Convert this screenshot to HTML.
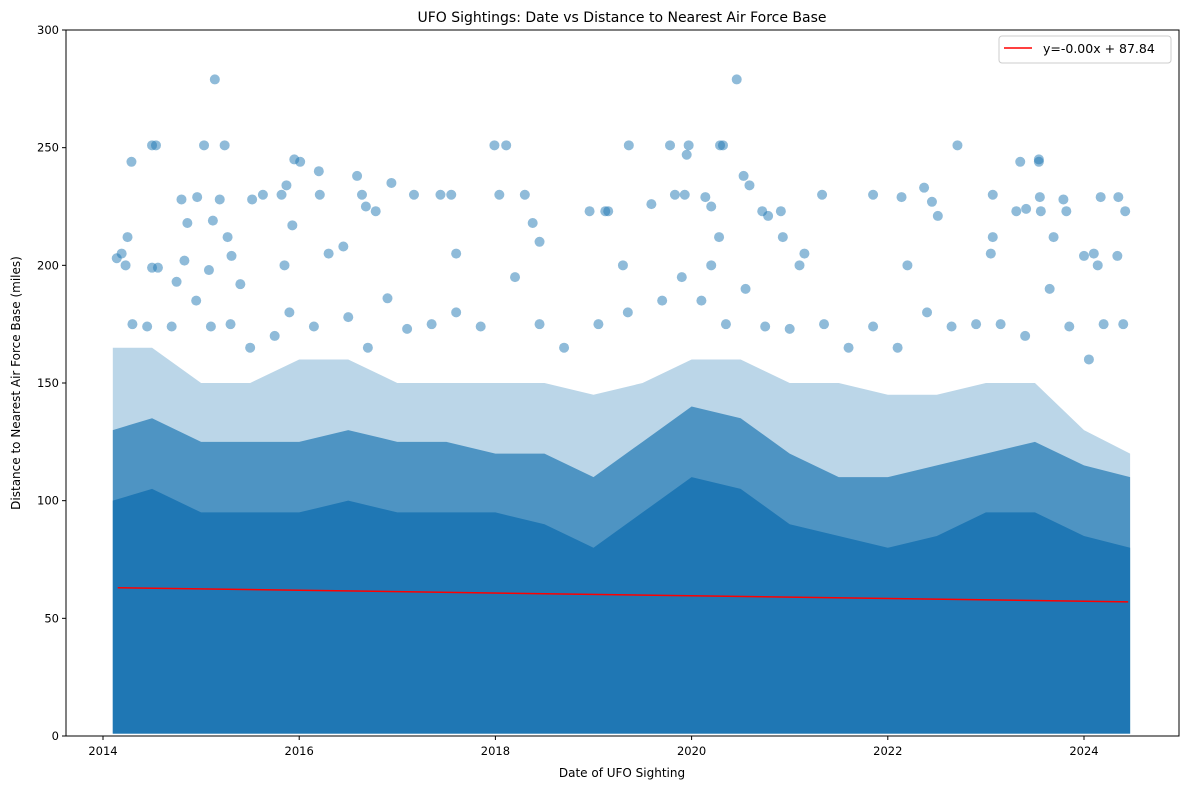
<!DOCTYPE html>
<html><head><meta charset="utf-8"><style>
body{margin:0;background:#fff;font-family:"DejaVu Sans","Liberation Sans",sans-serif;}
svg text{font-family:"DejaVu Sans","Liberation Sans",sans-serif;}
</style></head><body>
<svg id="chart" width="1189" height="790" xmlns="http://www.w3.org/2000/svg">
<text x="622" y="22" font-size="14" text-anchor="middle">UFO Sightings: Date vs Distance to Nearest Air Force Base</text>
<g id="plot"></g>
<rect x="66" y="30" width="1113" height="706" fill="none" stroke="#000" stroke-width="1"/>
<g id="axes"></g>
<text x="622" y="777" font-size="12" text-anchor="middle">Date of UFO Sighting</text>
<text transform="translate(20,383) rotate(-90)" font-size="12" text-anchor="middle">Distance to Nearest Air Force Base (miles)</text>
<g>
<rect x="999" y="36" width="172" height="27" rx="3" fill="#fff" stroke="#ccc"/>
<line x1="1004" y1="48" x2="1032" y2="48" stroke="red" stroke-width="1.5"/>
<text x="1043" y="53" font-size="12.5">y=-0.00x + 87.84</text>
</g>
</svg>
<script>
const binYears=[2014.1,2014.5,2015,2015.5,2016,2016.5,2017,2017.5,2018,2018.5,2019,2019.5,2020,2020.5,2021,2021.5,2022,2022.5,2023,2023.5,2024,2024.47];
const solidTop=[100,105,95,95,95,100,95,95,95,90,80,95,110,105,90,85,80,85,95,95,85,80];
const midTop=[130,135,125,125,125,130,125,125,120,120,110,125,140,135,120,110,110,115,120,125,115,110];
const sparseTop=[165,165,150,150,160,160,150,150,150,150,145,150,160,160,150,150,145,145,150,150,130,120];
const outYears=[2014.14,2014.19,2014.23,2014.25,2014.29,2014.5,2014.54,2014.5,2014.56,2014.75,2014.8,2014.83,2014.86,2014.96,2015.03,2015.08,2015.12,2015.14,2015.19,2015.24,2015.27,2015.31,2015.52,2015.63,2015.82,2015.85,2015.87,2015.93,2015.95,2016.01,2016.2,2016.21,2016.3,2016.59,2016.64,2016.68,2016.78,2016.94,2017.17,2017.44,2017.55,2017.99,2018.04,2018.11,2018.3,2018.38,2018.96,2019.12,2019.15,2019.36,2019.59,2019.78,2019.83,2019.93,2019.97,2019.95,2020.14,2020.2,2020.29,2020.32,2020.28,2020.46,2020.53,2020.59,2020.72,2020.78,2020.91,2020.93,2021.33,2021.85,2022.14,2022.37,2022.45,2022.51,2022.71,2023.07,2023.07,2023.31,2023.35,2023.41,2023.54,2023.54,2023.55,2023.56,2023.69,2023.79,2023.82,2024.17,2024.35,2024.42,2024.34,2024.0,2024.14];
const outVals=[203,205,200,212,244,251,251,199,199,193,228,202,218,229,251,198,219,279,228,251,212,204,228,230,230,200,234,217,245,244,240,230,205,238,230,225,223,235,230,230,230,251,230,251,230,218,223,223,223,251,226,251,230,230,251,247,229,225,251,251,212,279,238,234,223,221,223,212,230,230,229,233,227,221,251,212,230,223,244,224,244,245,229,223,212,228,223,229,229,223,204,204,200];
const midYears=[2014.3,2014.45,2014.7,2014.95,2015.1,2015.3,2015.5,2015.75,2015.9,2016.15,2016.5,2016.7,2016.9,2017.1,2017.35,2017.6,2017.85,2018.2,2018.45,2018.7,2019.05,2019.35,2019.7,2019.9,2020.1,2020.35,2020.55,2020.75,2021.0,2021.15,2021.35,2021.6,2021.85,2022.1,2022.4,2022.65,2022.9,2023.15,2023.4,2023.65,2023.85,2024.05,2024.2,2024.4,2024.1,2016.45,2017.6,2018.45,2019.3,2020.2,2021.1,2022.2,2023.05,2015.4];
const midVals=[175,174,174,185,174,175,165,170,180,174,178,165,186,173,175,180,174,195,175,165,175,180,185,195,185,175,190,174,173,205,175,165,174,165,180,174,175,175,170,190,174,160,175,175,205,208,205,210,200,200,200,200,205,192];
const trendX=[2014.15,2024.45];
const trendY=[63,57];
const xTicks=[2014,2016,2018,2020,2022,2024];
const yTicks=[0,50,100,150,200,250,300];

const NS="http://www.w3.org/2000/svg";
const X=y=>103+(y-2014)*98.1;
const Y=v=>736-v*(706/300);
const plot=document.getElementById('plot'), axes=document.getElementById('axes');
function mk(t,a,p){const e=document.createElementNS(NS,t);for(const k in a)e.setAttribute(k,a[k]);(p||plot).appendChild(e);return e;}
function area(tops,op,name){
  let d=`M${X(binYears[0])},${Y(1)}`;
  binYears.forEach((y,i)=>{d+=` L${X(y)},${Y(tops[i])}`;});
  d+=` L${X(binYears[binYears.length-1])},${Y(1)} Z`;
  const p=mk('path',{d:d,fill:'#1f77b4','fill-opacity':op});
  
  
}
area(sparseTop,0.3,'sparse-points-band');
area(midTop,0.7,'mid-density-band');
area(solidTop,1,'dense-points-band');
outYears.forEach((y,i)=>{
  const c=mk('circle',{cx:X(y),cy:Y(outVals[i]),r:5,fill:'#1f77b4','fill-opacity':0.5});
  
  
});
midYears.forEach((y,i)=>{
  const c=mk('circle',{cx:X(y),cy:Y(midVals[i]),r:5,fill:'#1f77b4','fill-opacity':0.5});
  
  
});
const tl=mk('line',{x1:X(trendX[0]),y1:Y(trendY[0]),x2:X(trendX[1]),y2:Y(trendY[1]),stroke:'red','stroke-width':1.5});


xTicks.forEach(t=>{
  const l=mk('line',{x1:X(t),x2:X(t),y1:736,y2:740,stroke:'#000'},axes);
  
  
  const tx=mk('text',{x:X(t),y:755,'font-size':11.5,'text-anchor':'middle'},axes);tx.textContent=t;
  
  
});
yTicks.forEach(t=>{
  const l=mk('line',{x1:62,x2:66,y1:Y(t),y2:Y(t),stroke:'#000'},axes);
  
  
  const tx=mk('text',{x:59,y:Y(t)+4,'font-size':11.5,'text-anchor':'end'},axes);tx.textContent=t;
  
  
});
</script>
</body></html>
